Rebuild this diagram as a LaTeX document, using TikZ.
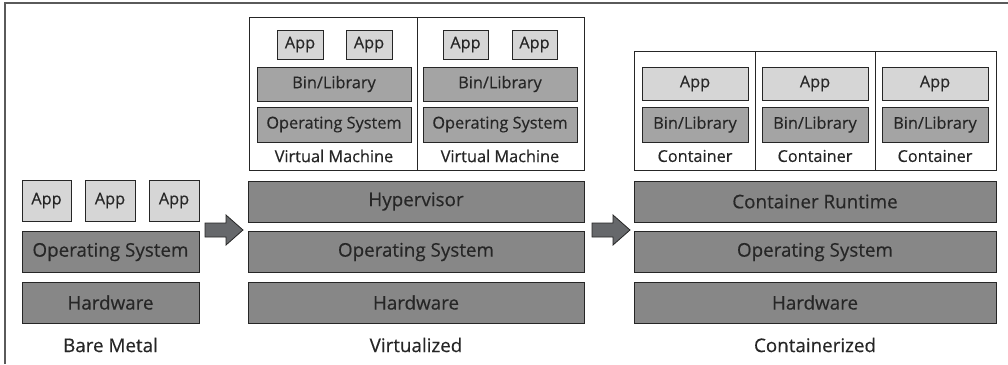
\documentclass[tikz,border=0pt]{standalone}
\usepackage{fontspec}
\setmainfont[FakeBold=0.35]{Open Sans}

\definecolor{ink}{HTML}{262626}
\definecolor{rim}{HTML}{5A5A5A}
\definecolor{layergray}{HTML}{878787}
\definecolor{libgray}{HTML}{A4A4A4}
\definecolor{appgray}{HTML}{D6D6D6}
\definecolor{arrowgray}{HTML}{66686B}

\begin{document}
\begin{tikzpicture}[x=1pt,y=-1pt,line width=.8pt,
  box/.style={draw=ink,text=ink,inner sep=0pt,anchor=center},
  layer/.style={box,fill=layergray,minimum width=#1,minimum height=41,font=\fontsize{18.8}{22}\selectfont},
  lib/.style={box,fill=libgray,minimum width=#1,minimum height=35,font=\fontsize{16.3}{19}\selectfont},
  app/.style={box,fill=appgray,minimum width=#1,minimum height=33,font=\fontsize{16.3}{19}\selectfont},
  host/.style={draw=ink,fill=white,inner sep=0pt,minimum width=#1,minimum height=153},
  tag/.style={text=ink,inner sep=0pt,font=\fontsize{16.3}{19}\selectfont},
  caption/.style={text=ink,inner sep=0pt,font=\fontsize{18.8}{22}\selectfont}]
\path[use as bounding box] (0,0) rectangle (1008,364);
\draw[rim,line width=1.5pt] (5,364) -- (5,3) -- (1008,3);

% bare metal
\node[app=49,minimum height=41] (bmapp1) at (46.5,200.5) {App};
\node[app=50,minimum height=41] (bmapp2) at (110,200.5) {App};
\node[app=50,minimum height=41] (bmapp3) at (174,200.5) {App};
\node[layer=177] (bmos) at (110.5,252) {Operating System};
\node[layer=177] (bmhw) at (110.5,302.5) {Hardware};
\node[caption] (bm) at (110.5,345) {Bare Metal};

\draw[ink,fill=arrowgray] (205,223) -- (226,223) -- (226,215) -- (243,230) -- (226,245) -- (226,237) -- (205,237) -- cycle;

% virtualized
\node[host=168] (vm1) at (333,93.5) {};
\node[host=167] (vm2) at (500.5,93.5) {};
\node[app=46,minimum height=29] (vmapp1) at (300,44.5) {App};
\node[app=46,minimum height=29] (vmapp2) at (369,44.5) {App};
\node[app=45,minimum height=29] (vmapp3) at (465.5,44.5) {App};
\node[app=45,minimum height=29] (vmapp4) at (534.5,44.5) {App};
\node[lib=154,minimum height=34] (vmbin1) at (334,84) {Bin/Library};
\node[lib=154,minimum height=34] (vmbin2) at (500,84) {Bin/Library};
\node[lib=154] (vmos1) at (334,124.5) {Operating System};
\node[lib=154] (vmos2) at (500,124.5) {Operating System};
\node[tag] (vmtag1) at (334,156) {Virtual Machine};
\node[tag] (vmtag2) at (500,156) {Virtual Machine};
\node[layer=336] (hyper) at (416,201.5) {Hypervisor};
\node[layer=336] (vos) at (416,252) {Operating System};
\node[layer=336] (vhw) at (416,302.5) {Hardware};
\node[caption] (virt) at (416,345) {Virtualized};

\draw[ink,fill=arrowgray] (592,223) -- (613,223) -- (613,215) -- (630,230) -- (613,245) -- (613,237) -- (592,237) -- cycle;

% containerized
\node[host=121,minimum height=119] (ct1) at (694.5,110.5) {};
\node[host=120,minimum height=119] (ct2) at (815,110.5) {};
\node[host=121,minimum height=119] (ct3) at (935.5,110.5) {};
\foreach \cx [count=\i] in {695,815,935}{
  \node[app=106] (ctapp\i) at (\cx,83.5) {App};
  \node[lib=106] (ctbin\i) at (\cx,124.5) {Bin/Library};
  \node[tag] (cttag\i) at (\cx,156) {Container};
}
\node[layer=362] (runtime) at (815,201.5) {Container Runtime};
\node[layer=362] (cos) at (815,252) {Operating System};
\node[layer=362] (chw) at (815,302.5) {Hardware};
\node[caption] (cont) at (815,345) {Containerized};
\end{tikzpicture}
\end{document}
